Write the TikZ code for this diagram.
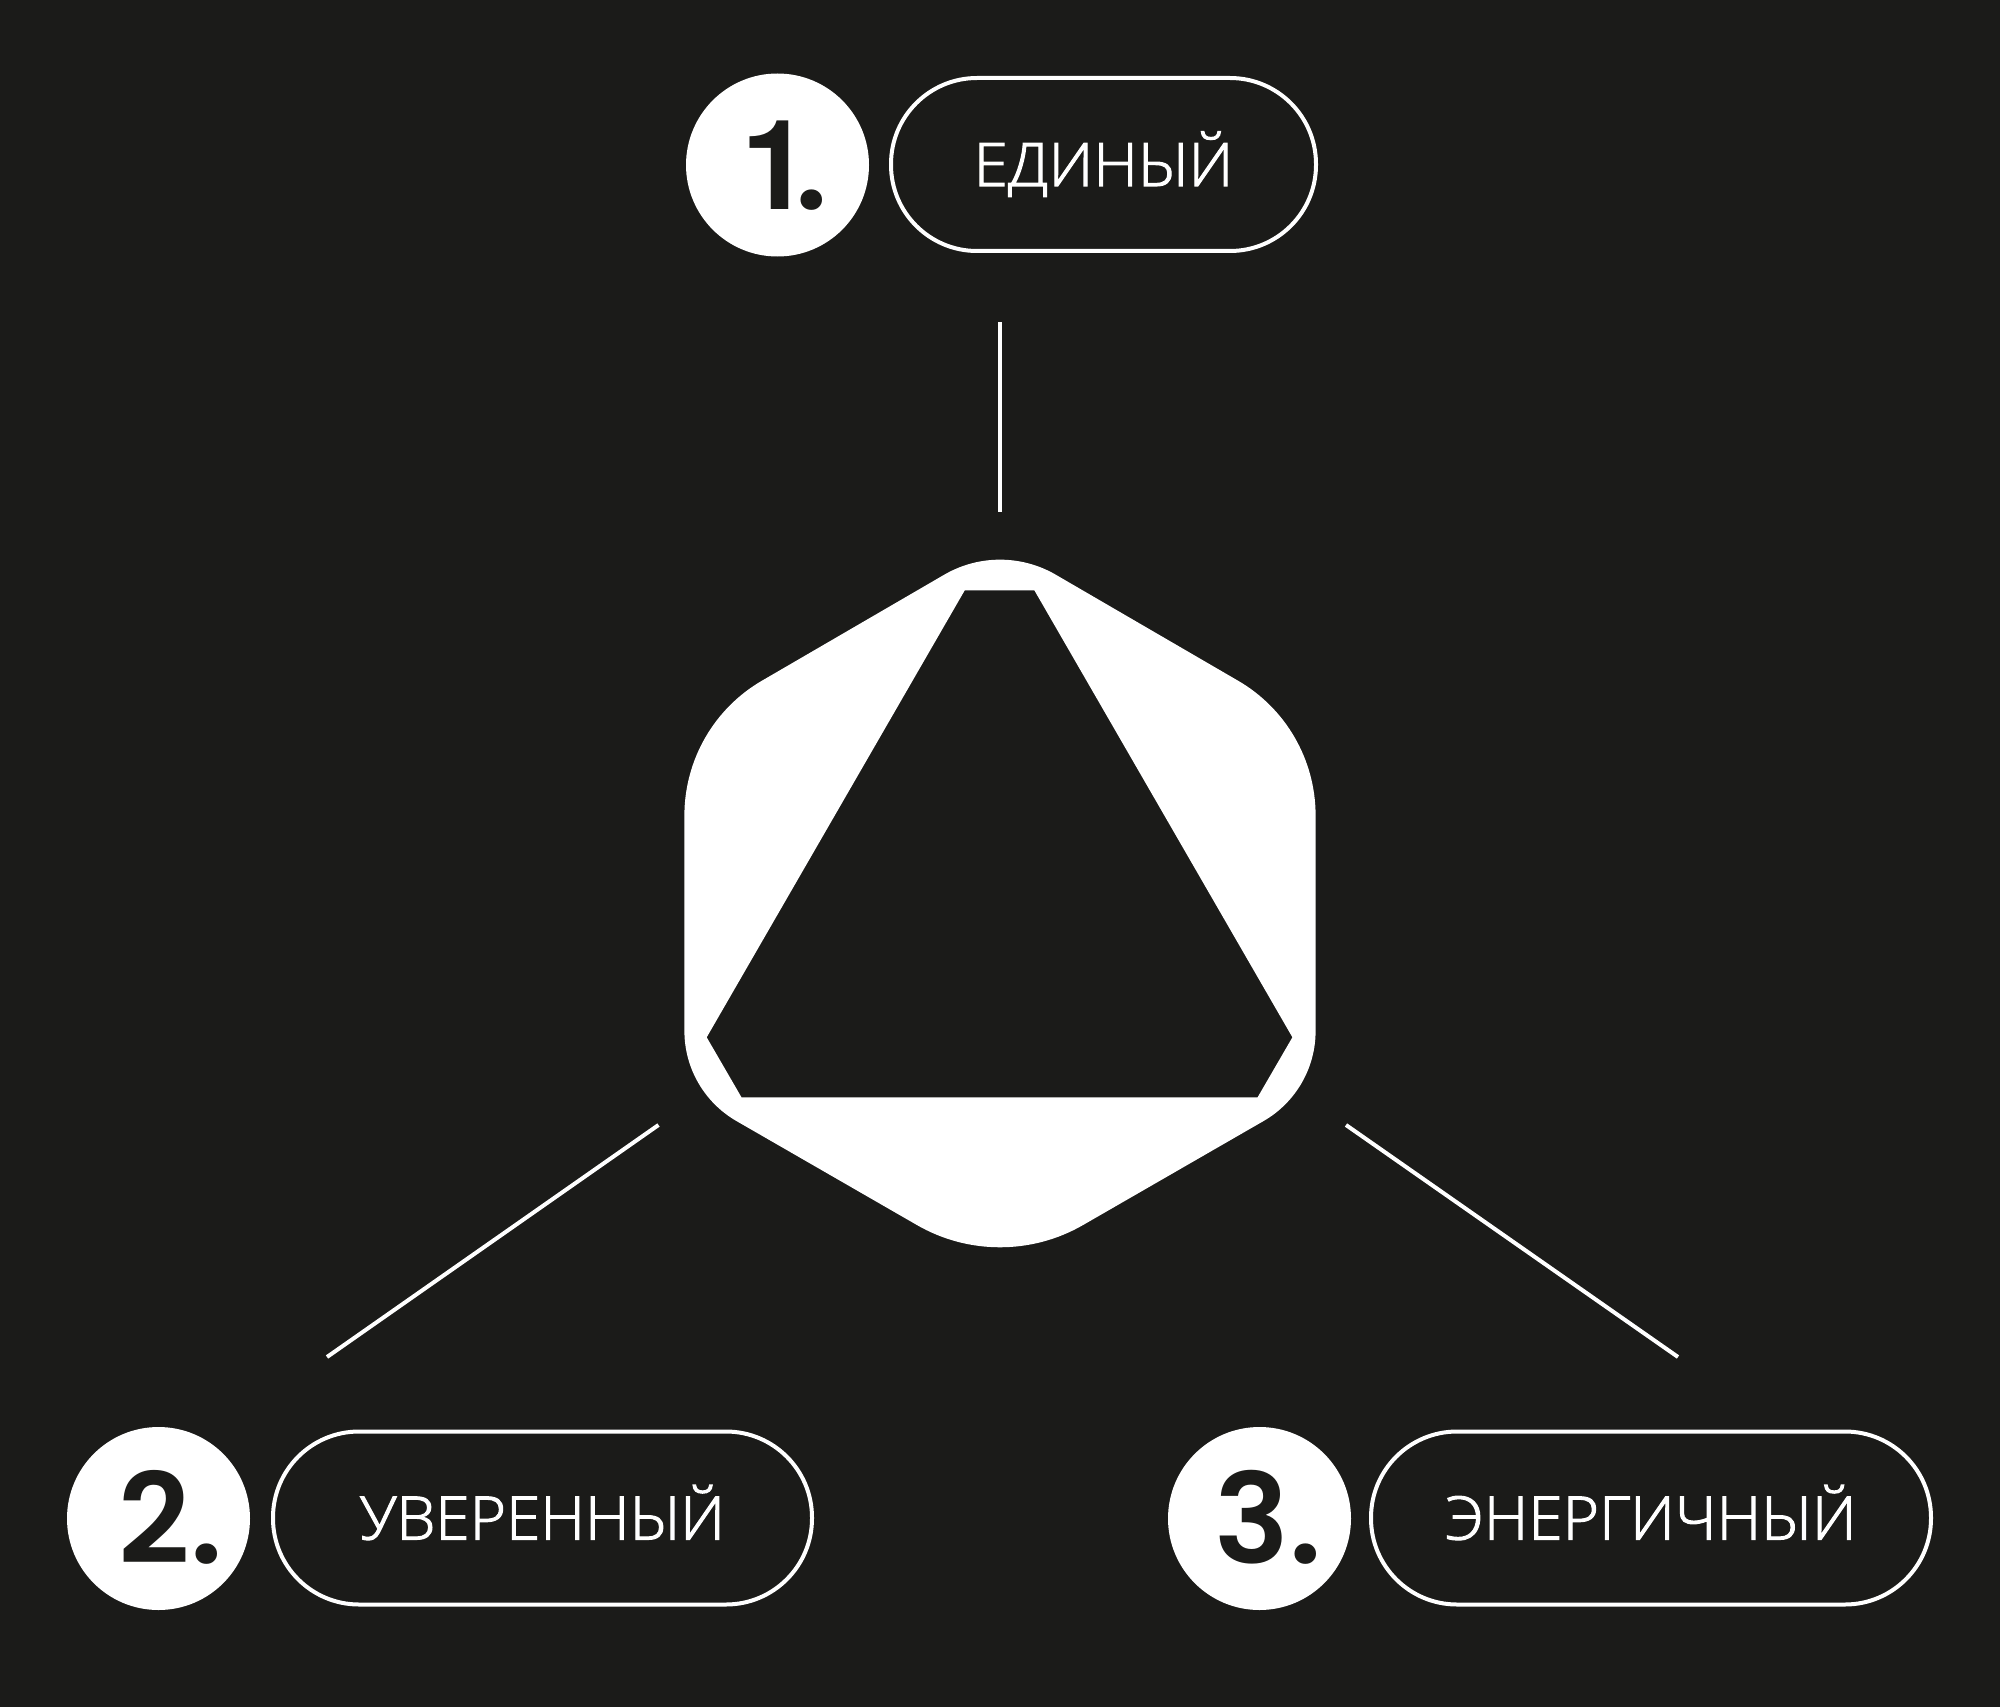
\documentclass[tikz,border=0pt]{standalone}
\usepackage{fontspec}
\setmainfont{Liberation Sans}
\newfontfamily\lab[FakeStretch=1.035,FakeBold=1.8]{Open Sans Light}
\newfontfamily\digitf{TeX Gyre Heros Bold}
\newfontfamily\dotf{Poppins SemiBold}
\definecolor{bg}{HTML}{1B1B19}
\tikzset{
  pill/.style={draw=white,line width=4pt,rounded corners=86pt,minimum height=173pt,text=white,inner sep=0pt,
     font=\lab\fontsize{60}{60}\selectfont,text height=43pt,text depth=0pt,align=center},
  badge/.style={circle,fill=white,minimum size=183pt,inner sep=0pt,text=bg,text height=90pt,text depth=0pt,
     font=\dotf\fontsize{125}{125}\selectfont},
  conn/.style={draw=white,line width=4pt}
}
\begin{document}
\begin{tikzpicture}[x=1pt,y=-1pt]
\useasboundingbox (0,0) rectangle (2000,1707);
\fill[bg] (0,0) rectangle (2000,1707);
% hexagon
\fill[white,even odd rule]
 (944.6,574.5) .. controls (978.9,554.7) and (1021.1,554.7) .. (1055.4,574.5)
 -- (1237.7,680.5) .. controls (1285.9,708.3) and (1315.6,759.8) .. (1315.6,815.5)
 -- (1315.6,1031) .. controls (1315.6,1068.1) and (1295.8,1102.4) .. (1263.6,1121)
 -- (1083.1,1225) .. controls (1031.7,1254.7) and (968.3,1254.7) .. (916.9,1225)
 -- (736.4,1121) .. controls (704.2,1102.4) and (684.4,1068.1) .. (684.4,1031)
 -- (684.4,815.5) .. controls (684.4,759.8) and (714.1,708.3) .. (762.3,680.5)
 -- cycle
 (964.7,590.4) -- (1034.4,590.4) -- (1292.4,1037.3) -- (1257.6,1097.3)
 -- (741.5,1097.3) -- (706.7,1037.3) -- cycle;
% connectors
\coordinate (t1) at (1000,322); \coordinate (t2) at (1000,512);
\coordinate (l1) at (658.5,1125); \coordinate (l2) at (327,1357);
\coordinate (r1) at (1346,1125); \coordinate (r2) at (1678,1357);
\draw[conn] (t1) -- (t2);
\draw[conn] (l1) -- (l2);
\draw[conn] (r1) -- (r2);
% badges
\node[badge] (b1) at (777.5,165) {\hspace*{14pt}{\digitf 1}\kern-16pt.};
\node[badge] (b2) at (158.5,1518.5) {\hspace*{24pt}2.};
\node[badge] (b3) at (1259.5,1518.5) {\hspace*{18pt}3.};
% pills
\node[pill,minimum width=425pt] (p1) at (1103.5,164.5) {ЕДИНЫЙ};
\node[pill,minimum width=539pt] (p2) at (542.5,1518) {УВЕРЕННЫЙ};
\node[pill,minimum width=560pt] (p3) at (1651,1518) {ЭНЕРГИЧНЫЙ};
\end{tikzpicture}
\end{document}
